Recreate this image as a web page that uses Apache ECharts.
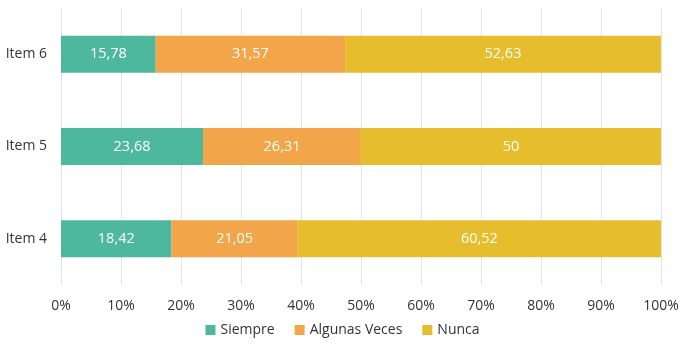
<!DOCTYPE html>
<html><head><meta charset="utf-8">
<script src="https://cdn.jsdelivr.net/npm/echarts@6/dist/echarts.min.js"></script>
<style>html,body{margin:0;padding:0;background:#fff}#c{width:685px;height:348px}</style>
</head><body><div id="c"></div>
<script>
var categories = ['Item 4', 'Item 5', 'Item 6'];
var siempre = [18.42, 23.68, 15.78];
var algunas = [21.05, 26.31, 31.57];
var nunca = [60.52, 50, 52.63];
var seriesNames = ['Siempre', 'Algunas Veces', 'Nunca'];
var colors = ['#4DB89D', '#F3A54A', '#E6BD2C'];

var font = '"Open Sans", "DejaVu Sans", sans-serif';
function fmt(p){ return String(p.value).replace('.', ','); }
function mk(name, data, color){
  return {
    name: name, type: 'bar', stack: 'total', data: data, barWidth: 37,
    itemStyle: {color: color},
    label: {show: true, position: 'inside', color: '#fff', fontSize: 14.5, fontFamily: font, formatter: fmt}
  };
}
var chart = echarts.init(document.getElementById('c'));
chart.setOption({
  animation: false,
  grid: {left: 61, right: 24, top: 8, bottom: 63},
  legend: {
    bottom: 6, left: 'center', itemWidth: 10, itemHeight: 10, itemGap: 20,
    icon: 'rect',
    textStyle: {fontSize: 14, color: '#333', fontFamily: font}
  },
  xAxis: {
    type: 'value', min: 0, max: 100, interval: 10,
    axisLabel: {formatter: '{value}%', fontSize: 14, color: '#333', fontFamily: font, margin: 14},
    splitLine: {lineStyle: {color: '#E3E3E3'}},
    axisLine: {show: false}, axisTick: {show: false}
  },
  yAxis: {
    type: 'category', data: categories,
    axisLabel: {fontSize: 14, color: '#333', fontFamily: font, margin: 14},
    axisLine: {show: false}, axisTick: {show: false}
  },
  series: [mk(seriesNames[0], siempre, colors[0]), mk(seriesNames[1], algunas, colors[1]), mk(seriesNames[2], nunca, colors[2])]
});
</script></body></html>
